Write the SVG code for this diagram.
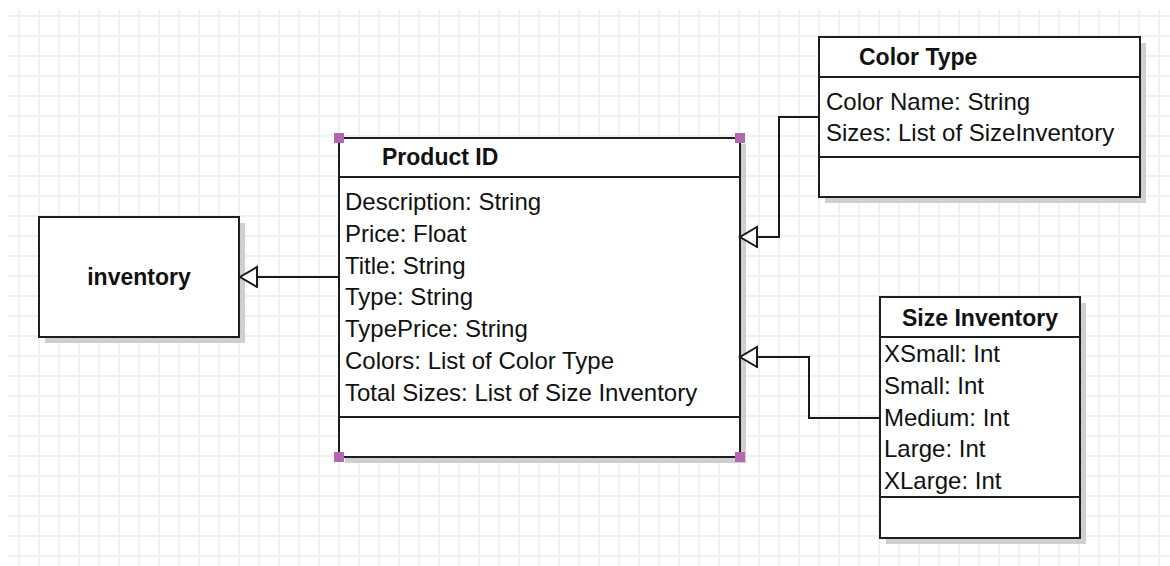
<svg xmlns="http://www.w3.org/2000/svg" width="1170" height="566" viewBox="0 0 1170 566">
  <defs>
    <pattern id="grid" x="0" y="0" width="20" height="20" patternUnits="userSpaceOnUse">
      <rect x="18" y="0" width="2" height="20" fill="#f1f1f1"/>
      <rect x="0" y="15" width="20" height="2" fill="#f1f1f1"/>
    </pattern>
    <marker id="hollow" markerUnits="userSpaceOnUse" markerWidth="22" markerHeight="26" refX="19" refY="11" orient="auto" viewBox="0 0 22 26">
      <path d="M2,1 L19,11 L2,21 Z" fill="#ffffff" stroke="#1a1a1a" stroke-width="2" stroke-linejoin="miter"/>
    </marker>
  </defs>
  <style>
    .box { fill: #ffffff; stroke: #1e1e1e; stroke-width: 2; }
    .shadow { fill: #cfcfcf; }
    .div { stroke: #1e1e1e; stroke-width: 2; }
    .title { font-family: "Liberation Sans", Arial, sans-serif; font-weight: bold; font-size: 23px; fill: #111111; }
    .attr { font-family: "Liberation Sans", Arial, sans-serif; font-size: 24px; fill: #111111; }
    .conn { fill: none; stroke: #1a1a1a; stroke-width: 2; }
    .handle { fill: #b366b3; }
  </style>
  <rect width="1170" height="566" fill="#ffffff"/>
  <rect x="8" y="10" width="1162" height="556" fill="url(#grid)"/>

  <g id="node-inventory">
    <rect class="shadow" x="45" y="223" width="200" height="120"/>
    <rect class="box" x="39" y="217" width="200" height="120"/>
    <text class="title" x="139" y="285" text-anchor="middle">inventory</text>
  </g>

  <g id="node-product">
    <rect class="shadow" x="345" y="144" width="401" height="319"/>
    <rect class="box" x="339" y="138" width="401" height="319"/>
    <line class="div" x1="339" y1="177" x2="740" y2="177"/>
    <line class="div" x1="339" y1="417" x2="740" y2="417"/>
    <text class="title" x="382" y="165">Product ID</text>
    <text class="attr" x="345" y="210">Description: String</text>
    <text class="attr" x="345" y="242">Price: Float</text>
    <text class="attr" x="345" y="274">Title: String</text>
    <text class="attr" x="345" y="305">Type: String</text>
    <text class="attr" x="345" y="337">TypePrice: String</text>
    <text class="attr" x="345" y="369">Colors: List of Color Type</text>
    <text class="attr" x="345" y="401">Total Sizes: List of Size Inventory</text>
    <rect class="handle" x="334" y="133" width="10" height="10"/>
    <rect class="handle" x="735" y="133" width="10" height="10"/>
    <rect class="handle" x="334" y="452" width="10" height="10"/>
    <rect class="handle" x="735" y="452" width="10" height="10"/>
  </g>

  <g id="node-colortype">
    <rect class="shadow" x="825" y="43" width="321" height="160"/>
    <rect class="box" x="819" y="37" width="321" height="160"/>
    <line class="div" x1="819" y1="77" x2="1140" y2="77"/>
    <line class="div" x1="819" y1="157" x2="1140" y2="157"/>
    <text class="title" x="859" y="65">Color Type</text>
    <text class="attr" x="826" y="110">Color Name: String</text>
    <text class="attr" x="826" y="141">Sizes: List of SizeInventory</text>
  </g>

  <g id="node-sizeinventory">
    <rect class="shadow" x="886" y="303" width="200" height="241"/>
    <rect class="box" x="880" y="297" width="200" height="241"/>
    <line class="div" x1="880" y1="337" x2="1080" y2="337"/>
    <line class="div" x1="880" y1="497" x2="1080" y2="497"/>
    <text class="title" x="980" y="326" text-anchor="middle">Size Inventory</text>
    <text class="attr" x="884" y="362">XSmall: Int</text>
    <text class="attr" x="884" y="394">Small: Int</text>
    <text class="attr" x="884" y="426">Medium: Int</text>
    <text class="attr" x="884" y="457">Large: Int</text>
    <text class="attr" x="884" y="489">XLarge: Int</text>
  </g>

  <g id="connectors">
    <path class="conn" d="M339,277 L240,277" marker-end="url(#hollow)"/>
    <path class="conn" d="M819,117 L779,117 L779,237 L740,237" marker-end="url(#hollow)"/>
    <path class="conn" d="M880,418 L809,418 L809,357 L740,357" marker-end="url(#hollow)"/>
  </g>
</svg>
